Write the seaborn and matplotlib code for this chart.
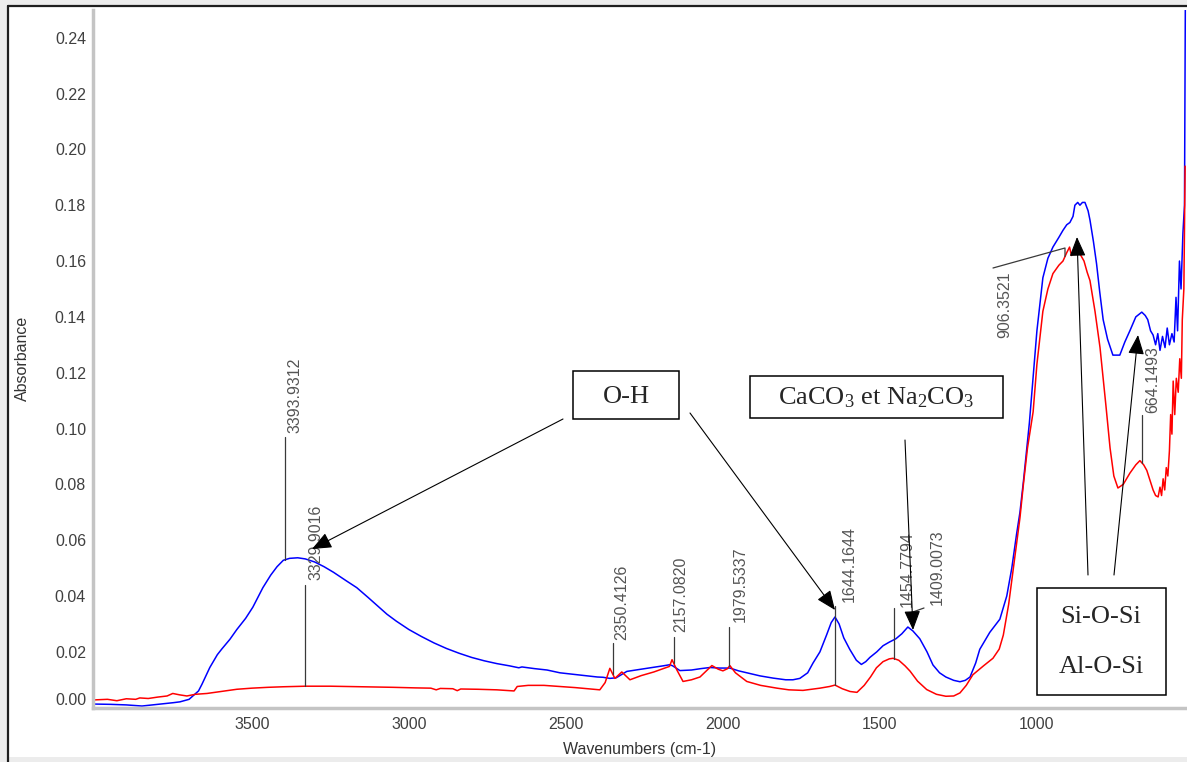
import numpy as np
import pandas as pd
import matplotlib
matplotlib.use("Agg")
import matplotlib.pyplot as plt
import seaborn as sns
from matplotlib.lines import Line2D
from matplotlib.patches import Rectangle

# ---------------- data ----------------
blue_wn = [4000, 3950, 3900, 3850, 3800, 3750, 3729, 3700, 3688, 3670, 3659, 3634, 3610, 3596,
           3570, 3548, 3520, 3497, 3465, 3440, 3420, 3400, 3380, 3354, 3330, 3300, 3270, 3240,
           3200, 3166, 3130, 3100, 3070, 3040, 3000, 2960, 2920, 2880, 2840, 2800, 2760, 2720,
           2680, 2650, 2640, 2600, 2560, 2519, 2480, 2440, 2400, 2382, 2360, 2340, 2306, 2260,
           2220, 2190, 2169, 2160, 2137, 2100, 2070, 2041, 2010, 1978, 1950, 1920, 1882, 1840,
           1800, 1777, 1755, 1730, 1713, 1691, 1670, 1655, 1643, 1630, 1615, 1596, 1575, 1559,
           1545, 1532, 1510, 1490, 1470, 1449, 1430, 1411, 1395, 1373, 1350, 1331, 1310, 1290,
           1265, 1245, 1228, 1213, 1195, 1182, 1150, 1118, 1096, 1080, 1065, 1054, 1043, 1033,
           1024, 1013, 1000, 981, 965, 949, 930, 917, 905, 895, 885, 879, 870, 863, 855, 847,
           837, 831, 820, 810, 800, 789, 775, 758, 736, 720, 704, 685, 666, 655, 647, 638, 630,
           622, 615, 608, 600, 592, 585, 578, 570, 563, 557, 552, 546, 541, 535, 530, 527]
blue_abs = [0.0013, 0.0012, 0.0010, 0.0006, 0.0012, 0.0018, 0.0021, 0.0030, 0.0042, 0.0060,
            0.0084, 0.0144, 0.0190, 0.0210, 0.0245, 0.0280, 0.0320, 0.0360, 0.0430, 0.0475,
            0.0505, 0.0528, 0.0535, 0.0537, 0.0533, 0.0522, 0.0505, 0.0485, 0.0455, 0.0430,
            0.0395, 0.0365, 0.0335, 0.0310, 0.0280, 0.0255, 0.0232, 0.0212, 0.0195, 0.0180,
            0.0168, 0.0158, 0.0150, 0.0143, 0.0146, 0.0140, 0.0135, 0.0125, 0.0120, 0.0115,
            0.0110, 0.0109, 0.0105, 0.0107, 0.0130, 0.0138, 0.0145, 0.0150, 0.0154, 0.0150,
            0.0133, 0.0135, 0.0140, 0.0144, 0.0142, 0.0142, 0.0132, 0.0124, 0.0114, 0.0106,
            0.0100, 0.0100, 0.0105, 0.0125, 0.0160, 0.0200, 0.0260, 0.0305, 0.0325, 0.0300,
            0.0250, 0.0209, 0.0170, 0.0155, 0.0165, 0.0180, 0.0200, 0.0222, 0.0235, 0.0247,
            0.0265, 0.0289, 0.0275, 0.0247, 0.0200, 0.0153, 0.0125, 0.0110, 0.0098, 0.0093,
            0.0098, 0.0110, 0.0160, 0.0209, 0.0270, 0.0317, 0.0400, 0.0500, 0.0620, 0.0700,
            0.0810, 0.0920, 0.1020, 0.1170, 0.1350, 0.1540, 0.1610, 0.1650, 0.1685, 0.1710,
            0.1730, 0.1738, 0.1760, 0.1800, 0.1810, 0.1800, 0.1810, 0.1810, 0.1780, 0.1747,
            0.1670, 0.1590, 0.1490, 0.1390, 0.1320, 0.1263, 0.1263, 0.1310, 0.1350, 0.1400,
            0.1417, 0.1405, 0.1390, 0.1350, 0.1335, 0.1300, 0.1340, 0.1280, 0.1330, 0.1290,
            0.1360, 0.1300, 0.1340, 0.1310, 0.1470, 0.1350, 0.1600, 0.1500, 0.1700, 0.1800,
            0.2600]

red_wn = [4000, 3960, 3930, 3900, 3870, 3857, 3830, 3800, 3770, 3752, 3730, 3707, 3680, 3643,
          3600, 3548, 3500, 3449, 3400, 3330, 3250, 3150, 3050, 2980, 2930, 2913, 2900, 2860,
          2846, 2835, 2780, 2720, 2680, 2665, 2655, 2620, 2570, 2519, 2470, 2420, 2392, 2375,
          2360, 2344, 2322, 2296, 2260, 2220, 2190, 2170, 2162, 2147, 2127, 2100, 2073, 2050,
          2035, 2015, 2000, 1985, 1978, 1960, 1924, 1880, 1828, 1790, 1745, 1691, 1660, 1643,
          1620, 1595, 1573, 1550, 1530, 1511, 1490, 1470, 1458, 1440, 1420, 1404, 1380, 1351,
          1320, 1290, 1265, 1245, 1225, 1204, 1170, 1140, 1120, 1107, 1090, 1075, 1054, 1043,
          1030, 1012, 1000, 981, 965, 949, 930, 917, 905, 896, 890, 880, 870, 860, 850, 840,
          831, 815, 799, 780, 767, 755, 742, 725, 704, 685, 672, 660, 650, 640, 630, 622, 614,
          608, 603, 598, 593, 588, 583, 578, 574, 570, 566, 561, 556, 550, 545, 540, 537, 532, 528]
red_abs = [0.0028, 0.0030, 0.0025, 0.0032, 0.0030, 0.0035, 0.0033, 0.0038, 0.0042, 0.0051,
           0.0046, 0.0042, 0.0048, 0.0051, 0.0058, 0.0066, 0.0070, 0.0073, 0.0075, 0.0077,
           0.0077, 0.0075, 0.0073, 0.0071, 0.0070, 0.0064, 0.0069, 0.0068, 0.0061, 0.0067,
           0.0066, 0.0064, 0.0061, 0.0060, 0.0076, 0.0080, 0.0080, 0.0076, 0.0072, 0.0067,
           0.0064, 0.0090, 0.0141, 0.0105, 0.0128, 0.0100, 0.0115, 0.0128, 0.0140, 0.0148,
           0.0172, 0.0136, 0.0094, 0.0100, 0.0110, 0.0135, 0.0151, 0.0138, 0.0132, 0.0140,
           0.0151, 0.0125, 0.0094, 0.0080, 0.0070, 0.0064, 0.0062, 0.0070, 0.0076, 0.0081,
           0.0068, 0.0058, 0.0055, 0.0080, 0.0110, 0.0143, 0.0165, 0.0175, 0.0177, 0.0170,
           0.0150, 0.0131, 0.0095, 0.0065, 0.0048, 0.0041, 0.0042, 0.0053, 0.0080, 0.0118,
           0.0150, 0.0177, 0.0210, 0.0260, 0.0370, 0.0500, 0.0680, 0.0800, 0.0930, 0.1060,
           0.1230, 0.1420, 0.1500, 0.1555, 0.1585, 0.1600, 0.1630, 0.1650, 0.1620, 0.1635,
           0.1640, 0.1620, 0.1600, 0.1560, 0.1530, 0.1420, 0.1290, 0.1080, 0.0930, 0.0830,
           0.0787, 0.0800, 0.0840, 0.0870, 0.0885, 0.0870, 0.0850, 0.0815, 0.0780, 0.0760,
           0.0755, 0.0790, 0.0760, 0.0820, 0.0780, 0.0860, 0.0830, 0.0920, 0.1050, 0.0980,
           0.1170, 0.1050, 0.1180, 0.1130, 0.1250, 0.1180, 0.1390, 0.1500, 0.1940]

x_ticks = [3500, 3000, 2500, 2000, 1500, 1000]
y_ticks = [0.00, 0.02, 0.04, 0.06, 0.08, 0.10, 0.12, 0.14, 0.16, 0.18, 0.20, 0.22, 0.24]
peak_values = [3393.9312, 3329.9016, 2350.4126, 2157.0820, 1979.5337,
               1644.1644, 1454.7794, 1409.0073, 906.3521, 664.1493]
x_label = "Wavenumbers (cm-1)"
y_label = "Absorbance"
box_oh = "O-H"
box_carb = "CaCO$_3$ et Na$_2$CO$_3$"
box_si = ["Si-O-Si", "Al-O-Si"]

# ---------------- style ----------------
sns.set_theme(style="white")
plt.rcParams["font.family"] = ["Liberation Sans", "DejaVu Sans"]
plt.rcParams["mathtext.fontset"] = "custom"
plt.rcParams["mathtext.rm"] = "Liberation Serif"
plt.rcParams["mathtext.it"] = "Liberation Serif:italic"

W, H = 1187, 762
fig = plt.figure(figsize=(W / 100, H / 100), dpi=100)
fig.patch.set_facecolor("#ececec")
fig.add_artist(Rectangle((8 / W, 5 / H), 1.0, (757 - 6) / H, transform=fig.transFigure,
                         facecolor="white", edgecolor="none", zorder=0))
fig.add_artist(Line2D([8 / W, 8 / W], [0, 1 - 6 / H], transform=fig.transFigure,
                      color="#1e1e1e", lw=1.6, zorder=1))
fig.add_artist(Line2D([8 / W, 1], [1 - 6 / H, 1 - 6 / H], transform=fig.transFigure,
                      color="#1e1e1e", lw=1.6, zorder=1))

ax_l, ax_r, ax_b, ax_t = 93, 1187, 707.7, 9.8
ax = fig.add_axes([ax_l / W, 1 - ax_b / H, (ax_r - ax_l) / W, (ax_b - ax_t) / H])
ax.patch.set_alpha(0)

df_blue = pd.DataFrame({"wn": blue_wn, "abs": blue_abs})
df_red = pd.DataFrame({"wn": red_wn, "abs": red_abs})
sns.lineplot(data=df_blue, x="wn", y="abs", color="#0000ff", lw=1.1, estimator=None, ax=ax)
sns.lineplot(data=df_red, x="wn", y="abs", color="#ff0000", lw=1.1, estimator=None, ax=ax)

ax.set_xlim(4006, 522)
ax.set_ylim(0, 0.25)
ax.set_xticks(x_ticks)
ax.set_xticklabels([str(t) for t in x_ticks])
ax.set_xticks(np.arange(600, 4001, 100), minor=True)
ax.set_yticks(y_ticks)
ax.set_yticklabels([f"{t:.2f}" for t in y_ticks])
ax.set_yticks(np.arange(0, 0.2501, 0.004), minor=True)
ax.tick_params(axis="both", which="major", direction="inout", length=6, width=1,
               color="#222222", labelsize=11.5, labelcolor="#404040", pad=2)
ax.tick_params(axis="both", which="minor", direction="inout", length=3, width=0.9,
               color="#222222")
ax.tick_params(axis="x", which="major", pad=4)
ax.xaxis.set_zorder(3)
ax.yaxis.set_zorder(3)
for s in ["top", "right"]:
    ax.spines[s].set_visible(False)
for s in ["left", "bottom"]:
    ax.spines[s].set_color("#c4c4c4")
    ax.spines[s].set_linewidth(2.5)
ax.get_yticklabels()[0].set_va("bottom")

ax.set_xlabel(x_label, fontsize=11.5, color="#333333")
ax.set_ylabel(y_label, fontsize=11.5, color="#333333")
ax.xaxis.set_label_coords(0.5, -0.049)
ax.yaxis.set_label_coords(-0.058, 0.5)


def P(xp, yp):
    """reference pixel position -> data coordinates"""
    return tuple(ax.transData.inverted().transform((xp, H - yp)))


def curve(series_wn, series_abs, w):
    return float(np.interp(w, series_wn[::-1], series_abs[::-1]))


LC = "#3a3a3a"
TC = "#555555"
# (value index, series, line top px, text centre x px, text bottom px)
label_layout = [
    (0, "b", 437, 295, 433),
    (1, "r", 585, 316, 580),
    (2, "r", 643, 622, 640),
    (3, "r", 637, 681, 632),
    (4, "r", 627, 740, 622),
    (5, "r", 606, 849, 602),
    (6, "r", 608, 907, 607),
    (9, "r", 415, 1153, 413),
]
for idx, ser, top_px, tx, tb in label_layout:
    w = peak_values[idx]
    y0 = curve(blue_wn, blue_abs, w) if ser == "b" else curve(red_wn, red_abs, w)
    y1 = P(0, top_px)[1]
    ax.plot([w, w], [y0, y1], color=LC, lw=0.9, clip_on=False)
    x_t, y_t = P(tx, tb)
    ax.text(x_t, y_t, f"{w:.4f}", rotation=90, ha="center", va="bottom",
            fontsize=11.5, color=TC)

# 1409 label (offset with short stub)
a, b = P(910, 613), P(924, 608)
ax.plot([a[0], b[0]], [a[1], b[1]], color=LC, lw=0.9)
x_t, y_t = P(937, 605)
ax.text(x_t, y_t, f"{peak_values[7]:.4f}", rotation=90, ha="center", va="bottom",
        fontsize=11.5, color=TC)

# 906 label (displaced, with leader)
w906 = peak_values[8]
a, b = P(993, 268), P(1065, 248)
ax.plot([a[0], b[0], b[0]], [a[1], b[1], curve(red_wn, red_abs, b[0])], color=LC, lw=0.9)
x_t, y_t = P(1005, 338)
ax.text(x_t, y_t, f"{w906:.4f}", rotation=90, ha="center", va="bottom",
        fontsize=11.5, color=TC)

# ---------------- boxes and arrows ----------------
def box(x0, y0, x1, y1):
    p0, p1 = P(x0, y1), P(x1, y0)
    ax.add_patch(Rectangle(p0, p1[0] - p0[0], p1[1] - p0[1], facecolor="white",
                           edgecolor="black", lw=1.1, zorder=4, clip_on=False))


def arrow(start, tip):
    ax.annotate("", xy=P(*tip), xytext=P(*start),
                arrowprops=dict(arrowstyle="-|>,head_length=1.2,head_width=0.5",
                                mutation_scale=10, lw=0.8, color="black",
                                shrinkA=0, shrinkB=0), zorder=5, annotation_clip=False)


SERIF = ["Liberation Serif", "DejaVu Serif"]
box(573, 371, 679, 419)
ax.text(*P(626, 397), box_oh, ha="center", va="center", fontsize=19, family=SERIF, zorder=5)
box(750, 376, 1003, 418)
ax.text(*P(876, 398), box_carb, ha="center", va="center", fontsize=19, family=SERIF, zorder=5)
box(1037, 588, 1166, 695)
ax.text(*P(1101, 617), box_si[0], ha="center", va="center", fontsize=19, family=SERIF, zorder=5)
ax.text(*P(1101, 667), box_si[1], ha="center", va="center", fontsize=19, family=SERIF, zorder=5)

arrow((563, 419), (312, 549))
arrow((690, 413), (835, 610))
arrow((905, 440), (913, 630))
arrow((1088, 575), (1077, 237))
arrow((1114, 575), (1138, 335))

fig.savefig("out.png", dpi=100, facecolor=fig.get_facecolor())
